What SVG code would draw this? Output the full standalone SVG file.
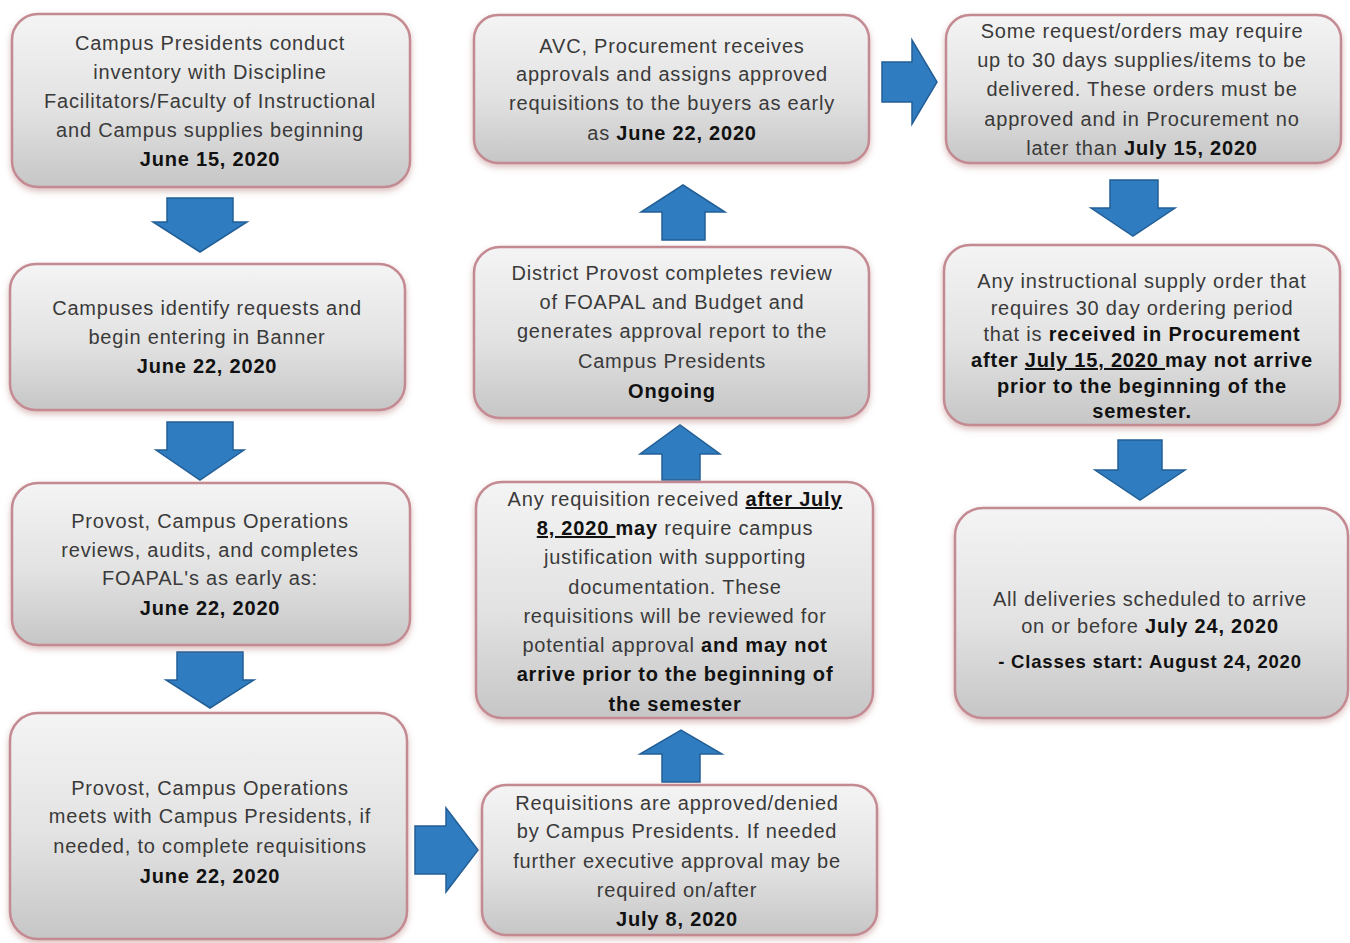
<svg xmlns="http://www.w3.org/2000/svg" width="1350" height="943" viewBox="0 0 1350 943">
<defs>
<linearGradient id="g" x1="0" y1="0" x2="0" y2="1">
<stop offset="0" stop-color="#f4f4f4"/>
<stop offset="0.55" stop-color="#e2e2e2"/>
<stop offset="1" stop-color="#c6c6c6"/>
</linearGradient>
<filter id="sh" x="-10%" y="-10%" width="120%" height="125%">
<feDropShadow dx="0" dy="3" stdDeviation="3" flood-color="#b07070" flood-opacity="0.45"/>
</filter>
</defs>
<style>
.box{fill:url(#g);stroke:#c48a92;stroke-width:2.5;filter:url(#sh)}
.t{font-family:"Liberation Sans",Arial,sans-serif;font-size:20px;letter-spacing:0.8px;fill:#3a3a3a;text-anchor:middle}
.b{font-weight:bold;fill:#111}
.u{text-decoration:underline}
.arr{fill:#2f7dc0;stroke:#235f96;stroke-width:1.5;stroke-linejoin:miter}
</style>
<rect width="1350" height="943" fill="#ffffff"/>

<g id="connectors">
<path class="arr" d="M167,198 H233 V222 H247 L200,252 L153,222 H167 Z"/>
<path class="arr" d="M167,422 H233 V450 H244 L200,480 L156,450 H167 Z"/>
<path class="arr" d="M177,652 H243 V680 H254 L210,708 L166,680 H177 Z"/>
<path class="arr" d="M415,826 H446 V808 L478,850 L446,892 V874 H415 Z"/>
<path class="arr" d="M662,782 H700 V754 H722 L681,730 L640,754 H662 Z"/>
<path class="arr" d="M662,480 H700 V454 H720 L680,425 L640,454 H662 Z"/>
<path class="arr" d="M662,240 H705 V212 H725 L683,185 L641,212 H662 Z"/>
<path class="arr" d="M882,62 H912 V40 L937,82 L912,124 V102 H882 Z"/>
<path class="arr" d="M1110,180 H1158 V208 H1175 L1133,236 L1091,208 H1110 Z"/>
<path class="arr" d="M1118,440 H1162 V470 H1185 L1140,500 L1095,470 H1118 Z"/>
</g>

<g id="n1">
<rect class="box" x="12" y="14" width="398" height="173" rx="26"/>
<text class="t" x="210" y="50">Campus Presidents conduct</text>
<text class="t" x="210" y="79">inventory with Discipline</text>
<text class="t" x="210" y="108">Facilitators/Faculty of Instructional</text>
<text class="t" x="210" y="137">and Campus supplies beginning</text>
<text class="t b" x="210" y="166">June 15, 2020</text>
</g>

<g id="n2">
<rect class="box" x="10" y="264" width="395" height="146" rx="26"/>
<text class="t" x="207" y="315">Campuses identify requests and</text>
<text class="t" x="207" y="344">begin entering in Banner</text>
<text class="t b" x="207" y="373">June 22, 2020</text>
</g>

<g id="n3">
<rect class="box" x="12" y="483" width="398" height="162" rx="26"/>
<text class="t" x="210" y="528">Provost, Campus Operations</text>
<text class="t" x="210" y="557">reviews, audits, and completes</text>
<text class="t" x="210" y="585">FOAPAL's as early as:</text>
<text class="t b" x="210" y="615">June 22, 2020</text>
</g>

<g id="n4">
<rect class="box" x="10" y="713" width="397" height="226" rx="28"/>
<text class="t" x="210" y="795">Provost, Campus Operations</text>
<text class="t" x="210" y="823">meets with Campus Presidents, if</text>
<text class="t" x="210" y="853">needed, to complete requisitions</text>
<text class="t b" x="210" y="883">June 22, 2020</text>
</g>

<g id="n5">
<rect class="box" x="482" y="785" width="395" height="150" rx="24"/>
<text class="t" x="677" y="810">Requisitions are approved/denied</text>
<text class="t" x="677" y="838">by Campus Presidents.  If needed</text>
<text class="t" x="677" y="868">further executive approval may be</text>
<text class="t" x="677" y="897">required on/after</text>
<text class="t b" x="677" y="926">July 8, 2020</text>
</g>

<g id="n6">
<rect class="box" x="476" y="482" width="397" height="236" rx="26"/>
<text class="t" x="675" y="506">Any requisition received <tspan class="b u">after July</tspan></text>
<text class="t" x="675" y="535"><tspan class="b u">8, 2020 </tspan><tspan class="b">may</tspan> require campus</text>
<text class="t" x="675" y="564">justification with supporting</text>
<text class="t" x="675" y="594">documentation.  These</text>
<text class="t" x="675" y="623">requisitions will be reviewed for</text>
<text class="t" x="675" y="652">potential approval <tspan class="b">and may not</tspan></text>
<text class="t b" x="675" y="681">arrive prior to the beginning of</text>
<text class="t b" x="675" y="711">the semester</text>
</g>

<g id="n7">
<rect class="box" x="474" y="247" width="395" height="171" rx="26"/>
<text class="t" x="672" y="280">District Provost completes review</text>
<text class="t" x="672" y="309">of FOAPAL and Budget and</text>
<text class="t" x="672" y="338">generates approval report to the</text>
<text class="t" x="672" y="368">Campus Presidents</text>
<text class="t b" x="672" y="398">Ongoing</text>
</g>

<g id="n8">
<rect class="box" x="474" y="15" width="395" height="148" rx="24"/>
<text class="t" x="672" y="53">AVC, Procurement receives</text>
<text class="t" x="672" y="81">approvals and assigns approved</text>
<text class="t" x="672" y="110">requisitions to the buyers as early</text>
<text class="t" x="672" y="140">as <tspan class="b">June 22, 2020</tspan></text>
</g>

<g id="n9">
<rect class="box" x="946" y="15" width="395" height="148" rx="24"/>
<text class="t" x="1142" y="38">Some request/orders may require</text>
<text class="t" x="1142" y="67">up to 30 days supplies/items to be</text>
<text class="t" x="1142" y="96">delivered.  These orders must be</text>
<text class="t" x="1142" y="126">approved and in Procurement no</text>
<text class="t" x="1142" y="155">later than <tspan class="b">July 15, 2020</tspan></text>
</g>

<g id="n10">
<rect class="box" x="944" y="245" width="396" height="180" rx="26"/>
<text class="t" x="1142" y="288">Any instructional supply order that</text>
<text class="t" x="1142" y="315">requires 30 day ordering period</text>
<text class="t" x="1142" y="341">that is <tspan class="b">received in Procurement</tspan></text>
<text class="t b" x="1142" y="367">after <tspan class="u">July 15, 2020 </tspan>may not arrive</text>
<text class="t b" x="1142" y="393">prior to the beginning of the</text>
<text class="t b" x="1142" y="418">semester.</text>
</g>

<g id="n11">
<rect class="box" x="955" y="508" width="393" height="210" rx="28"/>
<text class="t" x="1150" y="606">All deliveries scheduled to arrive</text>
<text class="t" x="1150" y="633">on or before <tspan class="b">July 24, 2020</tspan></text>
<text class="t b" x="1150" y="668" style="font-size:18.5px">- Classes start: August 24, 2020</text>
</g>
</svg>
